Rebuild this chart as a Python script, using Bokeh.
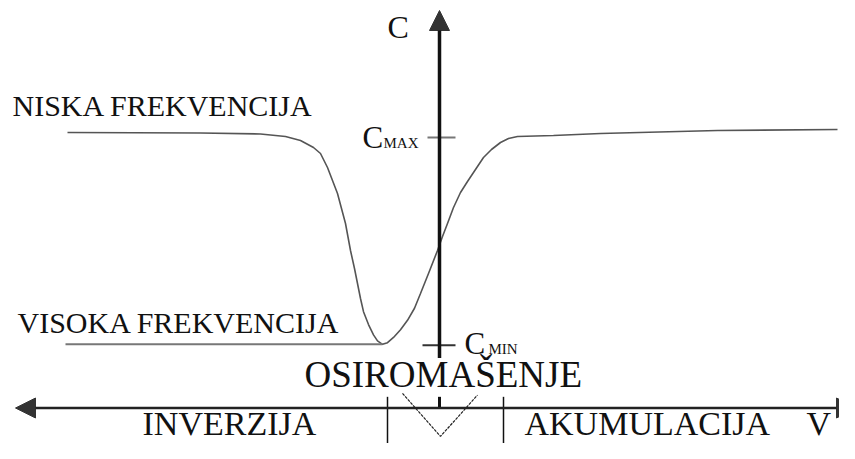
from bokeh.plotting import figure
from bokeh.models import Range1d, Arrow, NormalHead, ColumnDataSource
from bokeh.core.properties import value
from bokeh.embed import file_html
from bokeh.resources import INLINE

# Diagram coordinates (horizontal = gate voltage position, vertical = capacitance position, downward grows)
# Low-frequency C-V curve (NISKA FREKVENCIJA)
lf_v = [67, 200, 260, 285, 300, 313, 320, 327, 332, 337, 341, 345, 350, 354, 357, 360, 363,
        368, 373, 377, 382, 387, 393, 400, 407, 414, 420, 428, 437, 442, 447, 453, 460, 467,
        475, 483, 491, 500, 508, 517, 553, 600, 717, 837]
lf_c = [132, 132.5, 133.5, 136, 140, 147, 153, 167, 180, 193, 208, 223, 250, 268, 283, 298, 313,
        328, 340, 347, 351, 349, 343, 334, 323, 309, 293, 273, 250, 236, 223, 207, 192, 181,
        169, 157, 149, 142, 138, 136, 135, 133, 130, 129]
# High-frequency branch (VISOKA FREKVENCIJA)
hf_v = [65, 382]
hf_c = [351, 351]

# Axis geometry
v_axis_y = 425
c_axis_x = 439
c_axis_top = 10
c_axis_bottom = 367
v_axis_left = 15
v_axis_right = 856
c_max = 137
c_min = 352
region_ticks = [387, 503]
region_tick_top = 412
region_tick_bottom = 475
depletion_v_x = [402, 440, 477]
depletion_v_c = [408, 458, 410]

labels = ["NISKA FREKVENCIJA", "VISOKA FREKVENCIJA", "OSIROMAŠENJE", "INVERZIJA", "AKUMULACIJA", "V",
          "C", "C", "C", "MAX", "MIN"]
label_x = [12, 17, 304, 142, 524, 806, 387, 362, 464, 383, 488]
label_y = [115, 337, 400, 456, 456, 456, 37, 147, 362, 147, 362]
label_px = [30, 30, 37, 34, 34, 34, 32, 31, 31, 15, 15]


def fy(vals):
    # fit the lower band of the diagram into the available height
    return [c if c <= 300 else 300 + (c - 300) * 0.86 for c in vals]


p = figure(width=839, height=443, output_backend="svg", toolbar_location=None,
           x_range=Range1d(0, 839), y_range=Range1d(443, 0), min_border=0)
p.axis.visible = False
p.grid.visible = False
p.outline_line_color = None
p.background_fill_color = "white"
p.border_fill_color = "white"

# curves
p.line(lf_v, fy(lf_c), line_color="#555555", line_width=1.6)
p.line(hf_v, fy(hf_c), line_color="#777777", line_width=2)

head_kw = dict(size=20, fill_color="#333333", line_color="#333333")
# C axis
p.add_layout(Arrow(end=NormalHead(**head_kw),
                   x_start=c_axis_x, y_start=fy([c_axis_bottom])[0], x_end=c_axis_x, y_end=c_axis_top,
                   line_width=3.5, line_color="#111111"))
# V axis
vy = fy([v_axis_y])[0]
p.add_layout(Arrow(start=NormalHead(**head_kw), end=NormalHead(**head_kw),
                   x_start=v_axis_left, y_start=vy, x_end=v_axis_right, y_end=vy,
                   line_width=2.5, line_color="#222222"))

# C max / C min ticks
p.segment(x0=[427], y0=fy([c_max]), x1=[455], y1=fy([c_max]), line_color="#777777", line_width=2)
p.segment(x0=[422], y0=fy([c_min]), x1=[455], y1=fy([c_min]), line_color="#333333", line_width=2)

# region ticks on V axis
p.segment(x0=region_ticks, y0=fy([region_tick_top] * 2), x1=region_ticks, y1=fy([region_tick_bottom] * 2),
          line_color="#111111", line_width=1.5)
p.segment(x0=[c_axis_x], y0=fy([region_tick_top]), x1=[c_axis_x], y1=[vy],
          line_color="#111111", line_width=3)
# depletion "V" marker
p.line(depletion_v_x, fy(depletion_v_c), line_color="#222222", line_width=1.2, line_dash="3 1")

font = value("Liberation Serif")
ty = [b - 0.33 * s for b, s in zip(fy(label_y), label_px)]
src = ColumnDataSource(dict(x=label_x, y=ty, t=labels, s=[f"{s}px" for s in label_px]))
p.text(x="x", y="y", text="t", source=src, text_font=font, text_font_size="s",
       text_color="#111111", text_baseline="alphabetic", text_align="left")

open("out.html", "w").write(file_html(p, INLINE))
